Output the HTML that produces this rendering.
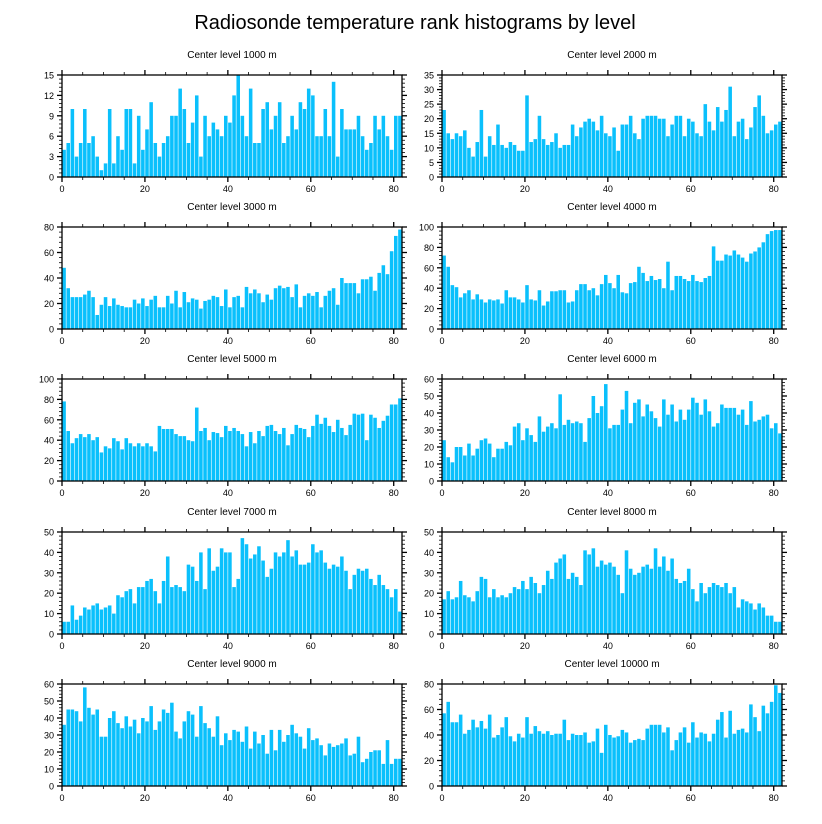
<!DOCTYPE html>
<html><head><meta charset="utf-8"><style>
html,body{margin:0;padding:0;background:#fff;}
svg{display:block;font-family:"Liberation Sans",sans-serif;}
</style></head><body>
<svg id="chart" width="822" height="824" viewBox="0 0 822 824" xmlns="http://www.w3.org/2000/svg">
<text x="415" y="29" font-size="20" text-anchor="middle" fill="#000">Radiosonde temperature rank histograms by level</text>
</svg>
<script>
const levels = [1000,2000,3000,4000,5000,6000,7000,8000,9000,10000];
const yMax = [15,35,80,100,100,60,50,50,60,80];
const yStep = [3,5,20,20,20,10,10,10,10,20];
const xTicks = [0,20,40,60,80];
const v1000 = [4,5,10,3,5,10,5,6,3,1,2,10,2,6,4,10,10,2,9,4,7,11,5,3,5,6,9,9,13,10,5,8,12,3,9,6,8,7,6,9,8,12,15,9,6,13,5,5,10,11,7,9,11,5,6,9,7,11,10,13,12,6,6,10,6,14,3,10,7,7,7,9,6,4,5,9,7,9,6,4,9,9];
const v2000 = [23,15,13,15,14,16,10,7,12,23,7,14,11,18,11,10,12,11,9,9,28,12,13,21,13,11,12,15,10,11,11,18,14,17,19,20,19,16,21,15,14,17,9,18,18,21,15,13,20,21,21,21,20,20,14,18,21,21,14,20,19,15,14,25,19,16,24,19,23,31,14,19,20,13,17,24,28,21,15,16,18,19];
const v3000 = [48,32,25,25,25,27,30,25,11,19,25,18,24,19,18,17,17,23,20,24,18,23,26,17,17,26,20,30,17,29,21,24,23,16,22,23,26,25,18,31,17,25,26,17,33,28,31,28,21,27,23,32,34,32,33,25,35,17,26,28,26,29,17,26,30,32,19,40,36,36,36,28,39,39,41,30,44,50,43,61,73,78];
const v4000 = [72,61,43,41,31,35,38,29,34,29,26,29,28,29,25,38,31,31,29,26,43,29,28,38,23,27,37,37,38,38,26,27,38,44,44,38,40,33,44,53,45,40,53,36,35,45,46,61,55,47,52,48,49,40,66,38,52,52,49,47,53,47,46,50,52,81,67,67,73,72,77,73,70,66,74,76,80,85,93,96,97,97];
const v5000 = [78,49,37,42,46,43,46,40,43,28,34,32,42,39,31,42,37,34,37,34,37,34,29,54,51,51,51,46,44,44,40,39,72,49,52,40,48,47,43,54,49,52,49,46,34,48,37,49,44,54,55,49,46,52,35,46,55,52,51,43,54,65,56,62,54,48,60,52,45,55,66,65,66,40,65,62,52,59,64,75,75,81];
const v6000 = [24,14,11,20,20,15,22,15,19,24,25,22,14,19,19,23,21,32,34,24,31,27,23,38,29,32,34,31,51,33,36,34,35,34,23,37,50,40,44,57,31,33,33,42,53,34,46,48,38,45,41,37,32,48,39,45,35,42,36,42,49,46,39,48,41,32,34,45,43,43,43,39,42,33,47,35,36,38,39,31,34,28];
const v7000 = [6,6,14,7,9,13,12,14,15,12,13,14,10,19,18,21,22,15,23,23,26,27,21,15,26,38,23,24,23,21,34,33,26,40,22,42,31,33,42,40,40,23,27,47,44,37,39,43,36,28,32,40,38,40,46,38,41,34,34,35,44,40,41,35,32,34,33,38,31,22,29,32,31,32,27,24,29,24,22,18,22,11];
const v8000 = [17,21,17,18,26,19,18,16,21,28,27,18,22,18,19,18,20,23,22,26,22,28,25,20,24,31,27,35,37,39,27,30,28,24,41,39,42,33,36,34,35,33,29,20,41,32,29,30,33,34,32,42,33,38,31,37,27,25,26,32,22,16,25,20,23,25,24,23,25,20,23,13,17,16,15,12,15,13,9,9,6,6];
const v9000 = [36,45,45,44,38,58,46,42,45,29,29,40,44,37,34,41,35,39,31,40,38,47,33,38,45,43,49,32,28,38,44,42,29,47,37,34,29,41,24,31,27,33,32,26,35,22,32,25,30,19,33,21,33,26,30,36,31,29,22,34,27,28,24,18,25,23,24,25,28,18,19,29,14,16,20,21,21,13,27,13,16,16];
const v10000 = [57,66,50,50,56,41,44,52,46,51,45,56,38,40,46,54,39,35,41,38,54,41,47,43,41,43,40,41,41,52,36,41,40,40,42,34,35,45,26,48,40,38,39,44,42,34,36,37,36,45,48,48,48,42,46,28,36,42,46,34,50,38,42,41,35,41,52,58,38,59,41,44,45,42,64,54,43,63,57,66,79,73];
const series = [v1000,v2000,v3000,v4000,v5000,v6000,v7000,v8000,v9000,v10000];

const NS = "http://www.w3.org/2000/svg";
const svg = document.getElementById('chart');
const tops = [75,227,379,532,684];
const lefts = [62,442];
const W = 340, H = 102, XMAX = 82;
function mk(tag, attrs, parent){
  const e = document.createElementNS(NS, tag);
  for (const k in attrs) e.setAttribute(k, attrs[k]);
  (parent||svg).appendChild(e);
  return e;
}
series.forEach((vals, p) => {
  const L = lefts[p%2], T = tops[Math.floor(p/2)];
  const ymax = yMax[p], step = yStep[p];
  const xs = v => L + v*W/XMAX;
  const ys = v => T + H - v*H/ymax;
  const g = mk('g', {});
  
  
  const t = mk('text', {x: L+W/2, y: T-17, 'font-size': 10, 'text-anchor':'middle', fill:'#000'}, g);
  
  
  t.textContent = 'Center level ' + levels[p] + ' m';
  const bars = mk('g', {}, g);
  
  
  vals.forEach((v, i) => {
    const x0 = xs(i), x1 = xs(i+1);
    const r = mk('rect', {x: x0+0.3, y: ys(v), width: x1-x0-0.6, height: T+H-ys(v), fill:'#0ac0fc'}, bars);
    
    
  });
  mk('rect', {x:L, y:T, width:W, height:H, fill:'none', stroke:'#000', 'stroke-width':1.3}, g);
  for (let v=0; v<=XMAX; v+=5){
    const major = v%20===0; const len = major?5:3;
    const x = xs(v);
    mk('line',{x1:x,x2:x,y1:T,y2:T-len,stroke:'#000','stroke-width':major?1.3:0.8},g);
    mk('line',{x1:x,x2:x,y1:T+H,y2:T+H+len,stroke:'#000','stroke-width':major?1.3:0.8},g);
  }
  xTicks.forEach(v => {
    const tl = mk('text',{x:xs(v), y:T+H+15, 'font-size':9, 'text-anchor':'middle', fill:'#000'}, g);
    
    
    tl.textContent = v;
  });
  const minor = step/5;
  for (let k=0; k*minor<=ymax+1e-9; k++){
    const v = k*minor; const major = k%5===0; const len = major?5:3; const y = ys(v);
    mk('line',{x1:L,x2:L-len,y1:y,y2:y,stroke:'#000','stroke-width':major?1.3:0.8},g);
    mk('line',{x1:L+W,x2:L+W+len,y1:y,y2:y,stroke:'#000','stroke-width':major?1.3:0.8},g);
    if (major){
      const tl = mk('text',{x:L-8, y:y+3.5, 'font-size':9, 'text-anchor':'end', fill:'#000'}, g);
      
      
      tl.textContent = Math.round(v);
    }
  }
});
</script>
</body></html>
